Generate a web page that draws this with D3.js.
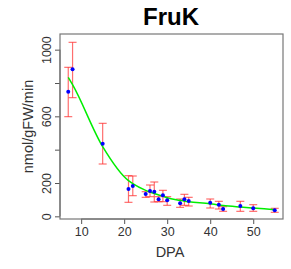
<!DOCTYPE html>
<meta charset="utf-8">
<style>
    body { margin: 0; background: #fff; }
    text { font-family: "Liberation Sans", Arial, sans-serif; }
</style>
<script src="https://d3js.org/d3.v7.min.js"></script>
<svg id="chart" width="291" height="269"></svg>
<script>

// data
var dpa   = [7, 8, 15, 21, 22, 25, 26, 27, 28, 29, 30, 33, 34, 35, 40, 42, 43, 47, 50, 55];
var mean  = [748, 882, 436, 164, 182, 134, 152, 148, 102, 126, 96, 78, 102, 92, 82, 70, 44, 62, 48, 36];
var upper = [894, 1044, 558, 244, 242, 148, 188, 206, 118, 156, 118, 104, 132, 114, 104, 90, 58, 90, 70, 48];
var lower = [598, 712, 314, 84, 124, 114, 118, 86, 88, 88, 66, 54, 66, 62, 50, 44, 30, 30, 30, 24];
var fit   = [834, 790, 418, 214, 196, 156, 146, 137, 128, 121, 112, 96, 91, 87, 76, 68, 65, 56, 50, 40];
var xTicks = [10, 20, 30, 40, 50];
var yTicks = [0, 200, 400, 600, 800, 1000];
var yLabels = [0, 200, 600, 1000];

var svg = d3.select("#chart");
var pLeft = 60, pRight = 283, pTop = 34, pBottom = 219;

var x = d3.scaleLinear().domain([5.08, 56.92]).range([pLeft, pRight]);
var y = d3.scaleLinear().domain([-16, 1094]).range([pBottom, pTop]);

// title
svg.append("text")
    .attr("x", 171).attr("y", 25)
    .attr("text-anchor", "middle")
    .style("font-size", "24px").style("font-weight", "bold")
    .text("FruK");

// x axis
var xAxis = svg.append("g")
    .attr("transform", "translate(0," + pBottom + ")")
    .call(d3.axisBottom(x).tickValues(xTicks).tickSize(5).tickPadding(3));
xAxis.selectAll("text").style("font-size", "12.5px").attr("fill", "#333");
xAxis.select(".domain").attr("d", "M" + x(10) + ",0H" + x(50));

// y axis
var yAxis = svg.append("g")
    .attr("transform", "translate(" + pLeft + ",0)")
    .call(d3.axisLeft(y).tickValues(yTicks).tickSize(5)
        .tickFormat(function(d) { return yLabels.indexOf(d) >= 0 ? d : ""; }));
yAxis.select(".domain").attr("d", "M0," + y(0) + "V" + y(1000));
yAxis.selectAll(".tick text")
    .style("font-size", "12.5px").attr("fill", "#333")
    .attr("text-anchor", "middle")
    .attr("x", null).attr("dy", null)
    .attr("transform", "translate(-9,0) rotate(-90)");

svg.selectAll(".domain").attr("stroke", "#555");
svg.selectAll(".tick line").attr("stroke", "#555");

// box
svg.append("rect")
    .attr("x", pLeft).attr("y", pTop)
    .attr("width", pRight - pLeft).attr("height", pBottom - pTop)
    .attr("fill", "none").attr("stroke", "#777").attr("stroke-width", 1.2);

// axis titles
svg.append("text")
    .attr("x", 170).attr("y", 257)
    .attr("text-anchor", "middle")
    .style("font-size", "14.5px").attr("fill", "#333")
    .text("DPA");
svg.append("text")
    .attr("transform", "translate(33," + ((pTop + pBottom) / 2) + ") rotate(-90)")
    .attr("text-anchor", "middle")
    .style("font-size", "14.5px").attr("fill", "#333")
    .text("nmol/gFW/min");

var idx = d3.range(dpa.length);

// error bars
var eb = svg.append("g")
    .attr("stroke", "#ff3030").attr("stroke-opacity", 0.7).attr("stroke-width", 1.2);
eb.selectAll(".v").data(idx).enter().append("line")
    .attr("x1", function(i) { return x(dpa[i]); })
    .attr("x2", function(i) { return x(dpa[i]); })
    .attr("y1", function(i) { return y(upper[i]); })
    .attr("y2", function(i) { return y(lower[i]); });
eb.selectAll(".t").data(idx).enter().append("line")
    .attr("x1", function(i) { return x(dpa[i]) - 4; })
    .attr("x2", function(i) { return x(dpa[i]) + 4; })
    .attr("y1", function(i) { return y(upper[i]); })
    .attr("y2", function(i) { return y(upper[i]); });
eb.selectAll(".b").data(idx).enter().append("line")
    .attr("x1", function(i) { return x(dpa[i]) - 4; })
    .attr("x2", function(i) { return x(dpa[i]) + 4; })
    .attr("y1", function(i) { return y(lower[i]); })
    .attr("y2", function(i) { return y(lower[i]); });

// fitted curve
var line = d3.line()
    .curve(d3.curveMonotoneX)
    .x(function(i) { return x(dpa[i]); })
    .y(function(i) { return y(fit[i]); });
svg.append("path")
    .datum(idx)
    .attr("d", line)
    .attr("fill", "none").attr("stroke", "#00ee00").attr("stroke-width", 1.5);

// points
svg.selectAll(".pt").data(idx).enter().append("circle")
    .attr("cx", function(i) { return x(dpa[i]); })
    .attr("cy", function(i) { return y(mean[i]); })
    .attr("r", 2)
    .attr("fill", "#0000ff");

</script>
